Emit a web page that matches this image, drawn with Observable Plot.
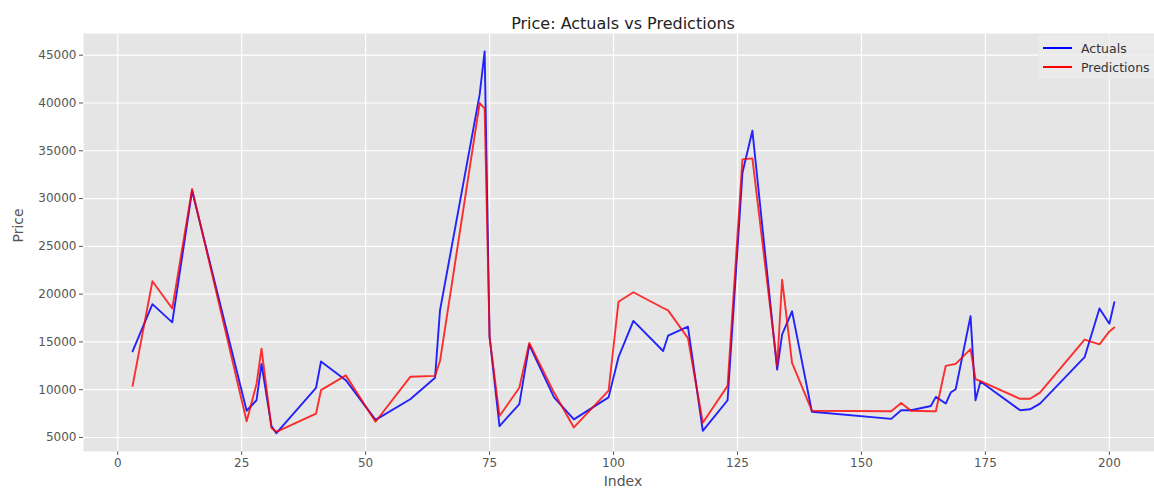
<!DOCTYPE html>
<html>
<head>
<meta charset="utf-8">
<script src="https://cdn.jsdelivr.net/npm/d3@7"></script>
<script src="https://cdn.jsdelivr.net/npm/@observablehq/plot@0.6"></script>
<style>
  html, body { margin: 0; padding: 0; background: #fff; }
  #wrap { position: relative; width: 1154px; height: 492px; font-family: "DejaVu Sans", sans-serif; }
  #legend { position: absolute; left: 1038px; top: 35px; width: 116px; height: 44px;
            background: rgba(235,235,235,0.8); font-size: 12.5px; color: #333; }
  #legend .row { position: absolute; left: 0; height: 16px; display: flex; align-items: center; }
  #legend .sw { width: 29px; height: 2px; margin-left: 5px; margin-right: 9px; }
</style>
</head>
<body>
<div id="wrap">
  <div id="chart"></div>
  <div id="legend">
    <div class="row" style="top:5px"><div class="sw" style="background:#0000ff"></div><span>Actuals</span></div>
    <div class="row" style="top:24px"><div class="sw" style="background:#ff0000"></div><span>Predictions</span></div>
  </div>
</div>
<script>
const indices = [3, 7, 11, 15, 26, 28, 29, 31, 32, 40, 41, 46, 52, 59, 64, 65, 73, 74, 75, 77, 81, 83, 88, 92, 99, 101, 104, 110, 111, 115, 118, 123, 126, 128, 133, 134, 136, 140, 156, 158, 160, 164, 165, 167, 168, 169, 172, 173, 174, 182, 184, 186, 195, 198, 200, 201];
const actuals = [14000, 18950, 17050, 30800, 7800, 8900, 12700, 6200, 5450, 10200, 12950, 11000, 6850, 9000, 11250, 18300, 40900, 45400, 15500, 6200, 8500, 14700, 9200, 6900, 9200, 13400, 17200, 14050, 15650, 16600, 5700, 8900, 32700, 37100, 12100, 15800, 18200, 7700, 6950, 7850, 7850, 8300, 9250, 8550, 9700, 10050, 17700, 8900, 10850, 7850, 7950, 8550, 13400, 18500, 16900, 19150];
const predictions = [10400, 21350, 18500, 31000, 6700, 10600, 14300, 6000, 5600, 7500, 9950, 11500, 6650, 11350, 11450, 13000, 40000, 39400, 15500, 7250, 10200, 14900, 9700, 6050, 9900, 19200, 20200, 18550, 18300, 15400, 6550, 10400, 34100, 34200, 12500, 21500, 12800, 7800, 7750, 8600, 7800, 7750, 7750, 12500, 12600, 12700, 14250, 11100, 10900, 9050, 9050, 9700, 15250, 14750, 16100, 16500];
const xTicks = [0, 25, 50, 75, 100, 125, 150, 175, 200];
const yTicks = [5000, 10000, 15000, 20000, 25000, 30000, 35000, 40000, 45000];
const seriesNames = ["Actuals", "Predictions"];
const seriesColors = ["#0000ff", "#ff0000"];

const rows = [];
indices.forEach((ix, k) => {
  rows.push({index: ix, price: actuals[k], series: seriesNames[0]});
});
indices.forEach((ix, k) => {
  rows.push({index: ix, price: predictions[k], series: seriesNames[1]});
});

const chart = Plot.plot({
  width: 1154,
  height: 492,
  marginLeft: 83,
  marginRight: 0,
  marginTop: 33,
  marginBottom: 41,
  style: {background: "white", fontFamily: "DejaVu Sans, sans-serif", fontSize: "12px", color: "#555", overflow: "visible"},
  x: {domain: [-6.9, 209.1], ticks: xTicks, tickSize: 4, tickPadding: 3, label: null, tickFormat: d => String(d)},
  y: {domain: [3535, 47270], ticks: yTicks, tickSize: 4, tickPadding: 3, label: null, tickFormat: d => String(d)},
  color: {domain: seriesNames, range: seriesColors},
  marks: [
    Plot.frame({fill: "#e5e5e5", stroke: "none"}),
    Plot.ruleX(xTicks, {stroke: "white", strokeWidth: 1.2}),
    Plot.ruleY(yTicks, {stroke: "white", strokeWidth: 1.2}),
    Plot.line(rows.filter(d => d.series === seriesNames[0]), {x: "index", y: "price", stroke: "series", strokeWidth: 1.9, strokeOpacity: 0.85}),
    Plot.line(rows.filter(d => d.series === seriesNames[1]), {x: "index", y: "price", stroke: "series", strokeWidth: 1.9, strokeOpacity: 0.8}),
    Plot.text(["Price: Actuals vs Predictions"], {frameAnchor: "top", dy: -16, dx: 4, fontSize: 16, fill: "#222"}),
    Plot.text(["Index"], {frameAnchor: "bottom", dy: 34, dx: 4, fontSize: 14, fill: "#555"}),
    Plot.text(["Price"], {frameAnchor: "left", dx: -65, rotate: -90, fontSize: 14, fill: "#555"})
  ]
});
document.getElementById("chart").appendChild(chart);
</script>
</body>
</html>
